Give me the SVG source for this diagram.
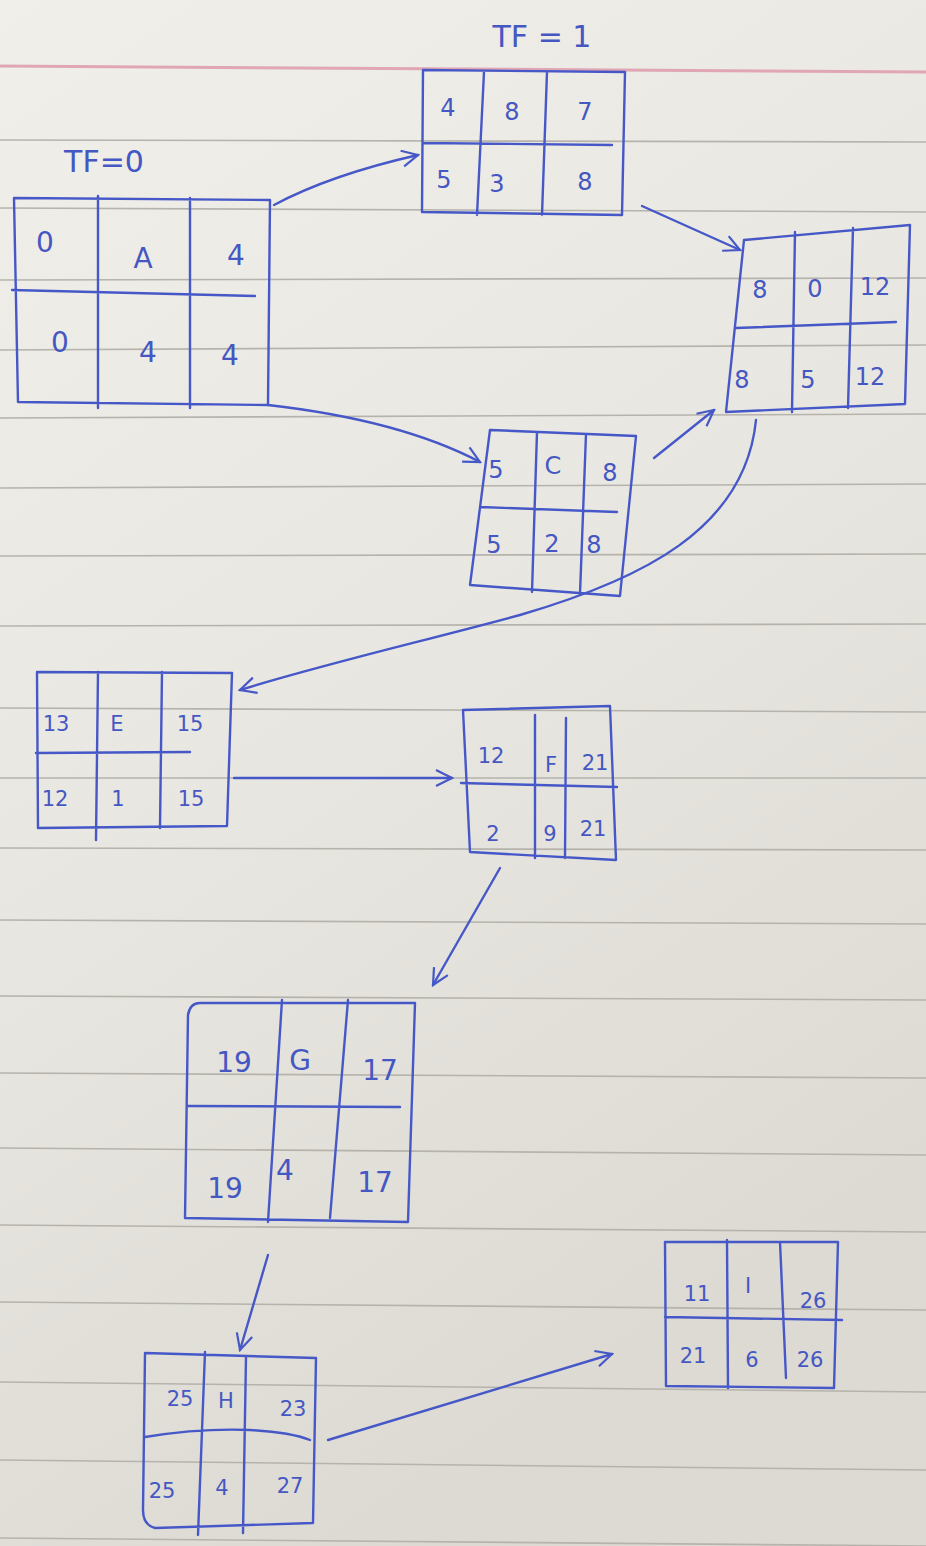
<svg xmlns="http://www.w3.org/2000/svg" width="926" height="1546" viewBox="0 0 926 1546">
<defs>
<linearGradient id="paper" x1="0" y1="0" x2="0.4" y2="1">
<stop offset="0" stop-color="#f1efe9"/>
<stop offset="0.5" stop-color="#e9e7e1"/>
<stop offset="1" stop-color="#dcdad3"/>
</linearGradient>
<marker id="ah" viewBox="0 0 20 20" refX="18" refY="10" markerWidth="20" markerHeight="20" markerUnits="userSpaceOnUse" orient="auto">
<path d="M2,2 L18,10 L2,18" fill="none" stroke="#4658c8" stroke-width="2.2"/>
</marker>
<style>
.rule{stroke:#b5b3ac;stroke-width:1.6;fill:none}
.ink{stroke:#4658c8;stroke-width:2.4;fill:none;stroke-linecap:round;stroke-linejoin:round}
.t{font-family:"DejaVu Sans","Liberation Sans",sans-serif;fill:#4557c2;font-size:24px;text-anchor:middle}
.s{font-size:21px}
.b{font-size:28px}
.tf{font-size:30px}
</style>
</defs>
<rect width="926" height="1546" fill="url(#paper)"/>
<g id="paper-lines">
<path d="M0,66 L926,72" fill="none" stroke="#e0a6b4" stroke-width="3"/>
<path class="rule" d="M0,140 L926,142"/>
<path class="rule" d="M0,208 L926,212"/>
<path class="rule" d="M0,280 L926,278"/>
<path class="rule" d="M0,350 L926,345"/>
<path class="rule" d="M0,418 L926,414"/>
<path class="rule" d="M0,488 L926,484"/>
<path class="rule" d="M0,556 L926,554"/>
<path class="rule" d="M0,626 L926,624"/>
<path class="rule" d="M0,708 L926,712"/>
<path class="rule" d="M0,778 L926,778"/>
<path class="rule" d="M0,848 L926,850"/>
<path class="rule" d="M0,920 L926,924"/>
<path class="rule" d="M0,996 L926,1000"/>
<path class="rule" d="M0,1073 L926,1078"/>
<path class="rule" d="M0,1148 L926,1155"/>
<path class="rule" d="M0,1225 L926,1232"/>
<path class="rule" d="M0,1302 L926,1310"/>
<path class="rule" d="M0,1382 L926,1392"/>
<path class="rule" d="M0,1460 L926,1470"/>
<path class="rule" d="M0,1538 L926,1546"/>
</g>
<g id="labels">
<text class="t tf" x="542" y="47">TF = 1</text>
<text class="t tf" x="104" y="172">TF=0</text>
</g>
<g id="connectors">
<path class="ink" d="M274,205 Q330,175 418,155" marker-end="url(#ah)"/>
<path class="ink" d="M642,206 L740,250" marker-end="url(#ah)"/>
<path class="ink" d="M268,405 Q400,420 480,462" marker-end="url(#ah)"/>
<path class="ink" d="M654,458 L714,410" marker-end="url(#ah)"/>
<path class="ink" d="M756,420 C745,530 640,580 520,615 C420,642 320,665 240,690" marker-end="url(#ah)"/>
<path class="ink" d="M234,778 L452,778" marker-end="url(#ah)"/>
<path class="ink" d="M500,868 L433,985" marker-end="url(#ah)"/>
<path class="ink" d="M268,1255 L240,1350" marker-end="url(#ah)"/>
<path class="ink" d="M328,1440 L612,1354" marker-end="url(#ah)"/>
</g>
<g id="node-A">
<path class="ink" d="M14,198 L270,200 L268,405 L18,402 Z M98,196 L98,408 M190,198 L190,408 M12,290 L255,296"/>
<text class="t b" x="45" y="252">0</text>
<text class="t b" x="143" y="268">A</text>
<text class="t b" x="236" y="265">4</text>
<text class="t b" x="60" y="352">0</text>
<text class="t b" x="148" y="362">4</text>
<text class="t b" x="230" y="365">4</text>
</g>
<g id="node-B">
<path class="ink" d="M423,70 L625,72 L622,215 L422,212 Z M484,72 L477,215 M547,72 L542,215 M423,143 L612,145"/>
<text class="t" x="448" y="116">4</text>
<text class="t" x="512" y="120">8</text>
<text class="t" x="585" y="120">7</text>
<text class="t" x="444" y="188">5</text>
<text class="t" x="497" y="192">3</text>
<text class="t" x="585" y="190">8</text>
</g>
<g id="node-D">
<path class="ink" d="M744,240 L910,225 L905,404 L726,412 L744,240 M795,232 L792,412 M853,228 L848,408 M736,328 L896,322"/>
<text class="t" x="760" y="298">8</text>
<text class="t" x="815" y="297">0</text>
<text class="t" x="875" y="295">12</text>
<text class="t" x="742" y="388">8</text>
<text class="t" x="808" y="388">5</text>
<text class="t" x="870" y="385">12</text>
</g>
<g id="node-C">
<path class="ink" d="M490,430 L636,436 L620,596 L470,585 Z M537,432 L532,592 M586,434 L580,594 M480,507 L617,512"/>
<text class="t" x="496" y="478">5</text>
<text class="t" x="553" y="474">C</text>
<text class="t" x="610" y="481">8</text>
<text class="t" x="494" y="553">5</text>
<text class="t" x="552" y="552">2</text>
<text class="t" x="594" y="553">8</text>
</g>
<g id="node-E">
<path class="ink" d="M37,672 L232,673 L227,826 L38,828 Z M98,672 L96,840 M162,672 L160,828 M36,753 L190,752"/>
<text class="t s" x="56" y="731">13</text>
<text class="t s" x="117" y="731">E</text>
<text class="t s" x="190" y="731">15</text>
<text class="t s" x="55" y="806">12</text>
<text class="t s" x="118" y="806">1</text>
<text class="t s" x="191" y="806">15</text>
</g>
<g id="node-F">
<path class="ink" d="M463,710 L610,706 L616,860 L470,852 Z M535,715 L535,858 M566,718 L565,858 M461,783 L617,787"/>
<text class="t s" x="491" y="763">12</text>
<text class="t s" x="551" y="772">F</text>
<text class="t s" x="595" y="770">21</text>
<text class="t s" x="493" y="841">2</text>
<text class="t s" x="550" y="841">9</text>
<text class="t s" x="593" y="836">21</text>
</g>
<g id="node-G">
<path class="ink" d="M200,1003 L415,1003 L408,1222 L185,1218 L188,1015 Q190,1003 200,1003 M282,1000 L268,1222 M348,1000 L330,1218 M188,1106 L400,1107"/>
<text class="t b" x="234" y="1072">19</text>
<text class="t b" x="300" y="1070">G</text>
<text class="t b" x="380" y="1080">17</text>
<text class="t b" x="225" y="1198">19</text>
<text class="t b" x="285" y="1180">4</text>
<text class="t b" x="375" y="1192">17</text>
</g>
<g id="node-H">
<path class="ink" d="M145,1353 L316,1358 L313,1523 L155,1528 Q143,1525 143,1510 Z M205,1352 L198,1535 M246,1357 L243,1533 M145,1437 Q200,1428 250,1430 Q290,1432 310,1440"/>
<text class="t s" x="180" y="1406">25</text>
<text class="t s" x="226" y="1408">H</text>
<text class="t s" x="293" y="1416">23</text>
<text class="t s" x="162" y="1498">25</text>
<text class="t s" x="222" y="1495">4</text>
<text class="t s" x="290" y="1493">27</text>
</g>
<g id="node-I">
<path class="ink" d="M665,1242 L838,1242 L834,1388 L666,1386 Z M727,1240 L728,1388 M780,1242 L786,1378 M665,1317 L842,1320"/>
<text class="t s" x="697" y="1301">11</text>
<text class="t s" x="748" y="1293">I</text>
<text class="t s" x="813" y="1308">26</text>
<text class="t s" x="693" y="1363">21</text>
<text class="t s" x="752" y="1367">6</text>
<text class="t s" x="810" y="1367">26</text>
</g>
</svg>
